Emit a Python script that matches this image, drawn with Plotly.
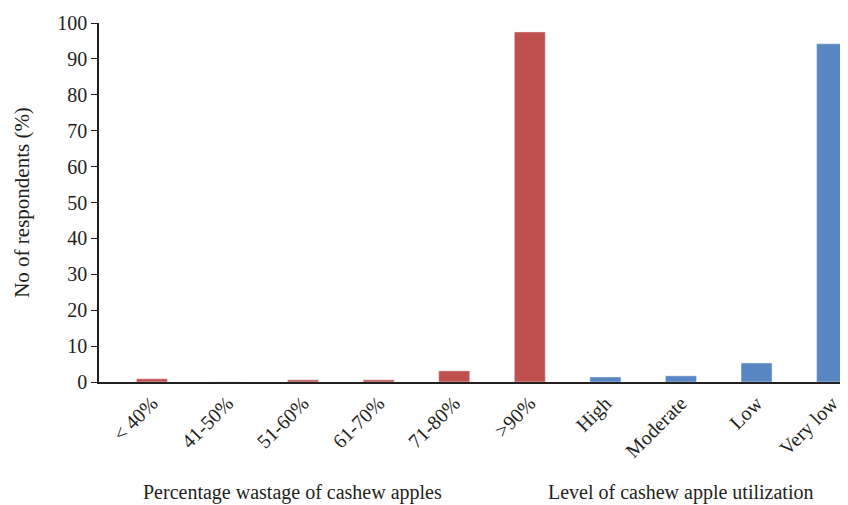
import plotly.graph_objects as go

wastage_cats = ["< 40%", "41-50%", "51-60%", "61-70%", "71-80%", ">90%"]
wastage_vals = [0.9, 0.0, 0.6, 0.6, 3.1, 97.5]

util_cats = ["High", "Moderate", "Low", "Very low"]
util_vals = [1.4, 1.7, 5.3, 94.2]

y_ticks = [0, 10, 20, 30, 40, 50, 60, 70, 80, 90, 100]

all_cats = wastage_cats + util_cats

fig = go.Figure()
fig.add_trace(go.Bar(x=wastage_cats, y=wastage_vals, marker_color="#C0504D",
                     width=0.41, showlegend=False))
fig.add_trace(go.Bar(x=util_cats, y=util_vals, marker_color="#5886C2",
                     width=0.41, showlegend=False))

font_family = "Liberation Serif, DejaVu Serif, serif"
fs = 20
txt = "#231F20"

fig.update_layout(
    width=840, height=497,
    margin=dict(l=91, r=0, t=15, b=123),
    plot_bgcolor="white", paper_bgcolor="white",
    barmode="overlay",
    font=dict(family=font_family, size=fs, color=txt),
    xaxis=dict(
        type="category", categoryorder="array", categoryarray=all_cats,
        range=[-0.7, 9.21], showline=True, linecolor=txt, linewidth=1.5,
        ticks="", tickangle=-45, showgrid=False, zeroline=False,
        tickfont=dict(family=font_family, size=fs, color=txt),
    ),
    yaxis=dict(
        range=[0, 100], tickvals=y_ticks, showline=True, linecolor=txt,
        linewidth=1.5, ticks="outside", ticklen=6, tickcolor=txt,
        showgrid=False, zeroline=False,
        tickfont=dict(family=font_family, size=fs, color=txt),
        title=dict(text="No of respondents (%)", standoff=22,
                   font=dict(family=font_family, size=21, color=txt)),
    ),
    annotations=[
        dict(text="Percentage wastage of cashew apples", xref="paper", yref="paper",
             x=0.259, y=-0.309, showarrow=False, xanchor="center", yanchor="middle",
             font=dict(family=font_family, size=fs, color=txt)),
        dict(text="Level of cashew apple utilization", xref="paper", yref="paper",
             x=0.777, y=-0.309, showarrow=False, xanchor="center", yanchor="middle",
             font=dict(family=font_family, size=fs, color=txt)),
    ],
)

fig.write_html("out.html")
